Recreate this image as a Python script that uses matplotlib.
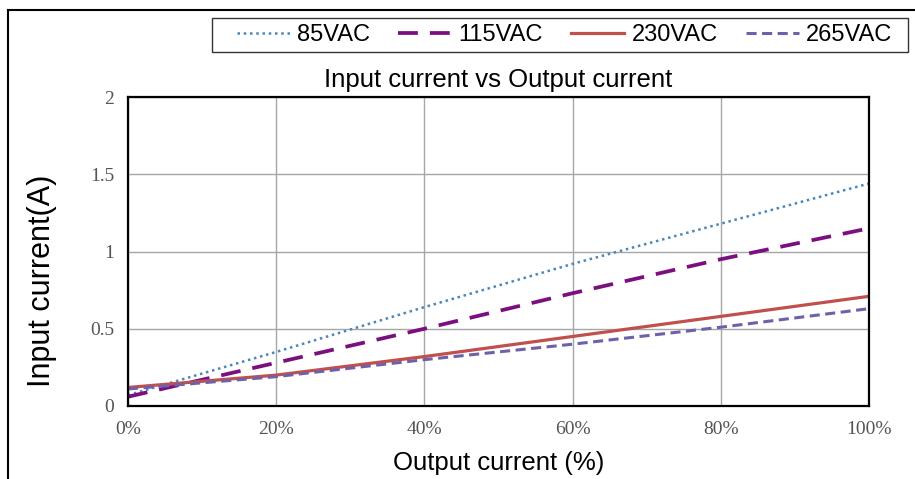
import matplotlib
matplotlib.use("Agg")
import matplotlib.pyplot as plt
from matplotlib.lines import Line2D
from matplotlib.patches import Rectangle
from matplotlib.ticker import FuncFormatter

# Data
load_pct = [0, 20, 40, 60, 80, 100]
i_85vac = [0.07, 0.35, 0.64, 0.92, 1.18, 1.44]
i_115vac = [0.06, 0.28, 0.50, 0.73, 0.95, 1.15]
i_230vac = [0.12, 0.20, 0.32, 0.45, 0.58, 0.71]
i_265vac = [0.11, 0.19, 0.30, 0.40, 0.51, 0.63]
y_ticks = [0, 0.5, 1, 1.5, 2]
x_ticks = [0, 20, 40, 60, 80, 100]

W, H = 915, 479
fig = plt.figure(figsize=(W / 100, H / 100), dpi=100)
ax = fig.add_axes([128 / W, 1 - 406 / H, (869 - 128) / W, (406 - 97) / H])

ax.plot(load_pct, i_85vac, color="#4a86b8", lw=1.8, linestyle=(0, (1, 1.5)), label="85VAC")
ax.plot(load_pct, i_115vac, color="#7b0f7f", lw=2.7, linestyle=(0, (5.3, 3.2)), label="115VAC")
ax.plot(load_pct, i_230vac, color="#c0504d", lw=2.3, label="230VAC")
ax.plot(load_pct, i_265vac, color="#7060a8", lw=2.2, linestyle=(0, (3.3, 1.8)), label="265VAC")

ax.set_xlim(0, 100)
ax.set_ylim(0, 2)
ax.set_xticks(x_ticks)
ax.set_yticks(y_ticks)
ax.xaxis.set_major_formatter(FuncFormatter(lambda v, p: f"{v:.0f}%"))
ax.yaxis.set_major_formatter(FuncFormatter(lambda v, p: f"{v:g}"))
ax.grid(True, color="#a6a6a6", lw=1)
ax.set_axisbelow(True)
ax.tick_params(length=0, labelcolor="#555555", labelsize=14)
ax.tick_params(axis="x", pad=11)
ax.tick_params(axis="y", pad=10)
for lab in ax.get_xticklabels() + ax.get_yticklabels():
    lab.set_family("Liberation Serif")
for sp in ax.spines.values():
    sp.set_linewidth(1.6)
    sp.set_color("black")

ax.set_title("Input current vs Output current", family="Liberation Sans",
             fontsize=18.5, pad=7)
ax.set_xlabel("Output current (%)", family="Liberation Sans", fontsize=18.5)
ax.xaxis.set_label_coords(0.5, (406 - 463) / 309, transform=ax.transAxes)
ax.xaxis.label.set_va("center")
ax.set_ylabel("Input current(A)", family="Liberation Sans", fontsize=22)
ax.yaxis.set_label_coords((42 - 128) / 741, (406 - 281) / 309, transform=ax.transAxes)
ax.yaxis.label.set_va("center")

# legend box drawn separately so its padding matches the original
fig.add_artist(Rectangle((212 / W, 1 - 52 / H), (908 - 212) / W, 34 / H,
                         transform=fig.transFigure, fill=False, ec="#333333", lw=1.0))
leg = fig.legend(loc="center", bbox_to_anchor=((237 + 892) / 2 / W, 1 - 35 / H),
                 ncol=4, frameon=False, prop={"family": "Liberation Sans", "size": 17},
                 handlelength=2.25, handletextpad=0.3, columnspacing=1.2,
                 borderpad=0, borderaxespad=0)

# outer frame of the original screenshot
fig.add_artist(Line2D([8 / W, 1], [1 - 10 / H, 1 - 10 / H], color="black", lw=1.5))
fig.add_artist(Line2D([8 / W, 8 / W], [0, 1 - 10 / H], color="black", lw=1.5))

fig.savefig("out.png", dpi=100)
